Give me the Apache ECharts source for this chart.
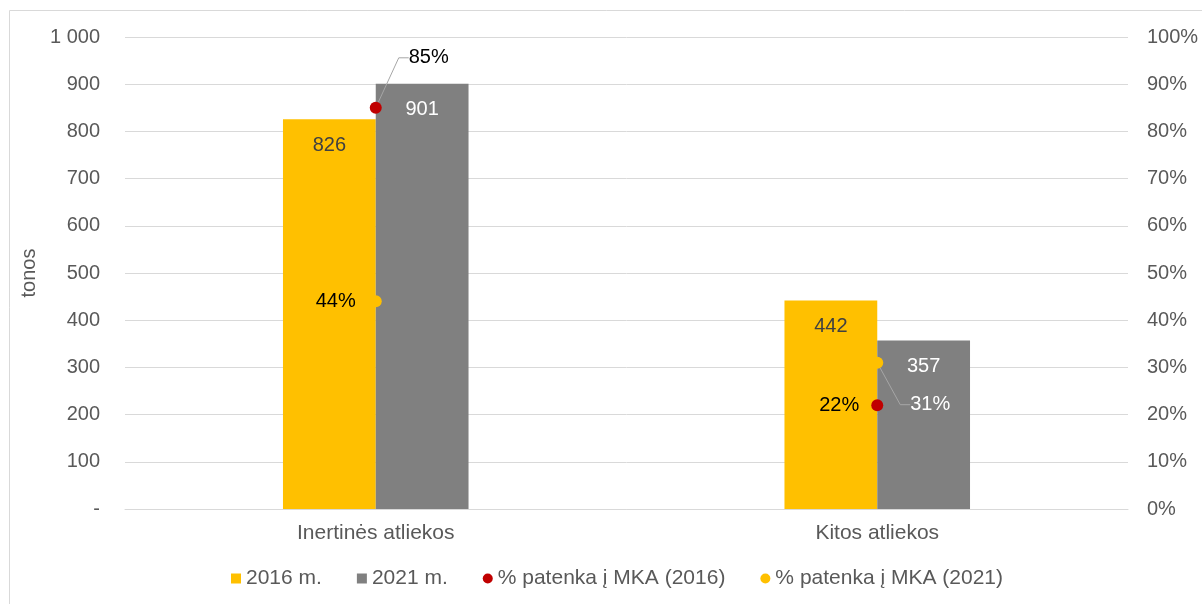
<!DOCTYPE html>
<html>
<head>
<meta charset="utf-8">
<script src="https://cdn.jsdelivr.net/npm/echarts@6/dist/echarts.min.js"></script>
<style>
html,body{margin:0;padding:0;background:#fff;}
#c{width:1202px;height:604px;}
</style>
</head>
<body>
<div id="c"></div>
<script>
var categories = ['Inertinės atliekos', 'Kitos atliekos'];
var tons2016 = [826, 442];
var tons2021 = [901, 357];
var share2016 = [0.85, 0.22];
var share2021 = [0.44, 0.31];
var seriesNames = ['2016 m.', '2021 m.', '% patenka į MKA (2016)', '% patenka į MKA (2021)'];

var FONT = "'Liberation Sans', Arial, Helvetica, sans-serif";
var chart = echarts.init(document.getElementById('c'), null, {renderer: 'canvas'});

function pctLabel(v) { return Math.round(v * 100) + '%'; }

var option = {
  animation: false,
  textStyle: {fontFamily: FONT},
  graphic: [{
    type: 'rect', silent: true,
    shape: {x: 9.5, y: 10.5, width: 1200, height: 600},
    style: {fill: 'none', stroke: '#D9D9D9', lineWidth: 1}
  }],
  grid: {left: 125, right: 74, top: 37, bottom: 95},
  legend: {
    left: 226, top: 563,
    itemWidth: 10, itemHeight: 10, itemGap: 35,
    textStyle: {fontFamily: FONT, fontSize: 21, color: '#595959'},
    data: [
      {name: seriesNames[0], icon: 'rect'},
      {name: seriesNames[1], icon: 'rect'},
      {name: seriesNames[2], icon: 'circle'},
      {name: seriesNames[3], icon: 'circle'}
    ]
  },
  xAxis: {
    type: 'category', data: categories,
    axisLine: {lineStyle: {color: '#D9D9D9'}},
    axisTick: {show: false},
    axisLabel: {fontFamily: FONT, fontSize: 21, color: '#595959', margin: 14}
  },
  yAxis: [{
    type: 'value', min: 0, max: 1000, interval: 100,
    name: 'tonos', nameLocation: 'middle', nameGap: 76, nameRotate: 90,
    nameTextStyle: {fontFamily: FONT, fontSize: 20, color: '#595959'},
    axisLine: {show: false}, axisTick: {show: false},
    splitLine: {lineStyle: {color: '#D9D9D9'}},
    axisLabel: {
      fontFamily: FONT, fontSize: 20, color: '#595959', margin: 25,
      formatter: function (v) { return v === 0 ? '-' : String(v).replace(/\B(?=(\d{3})+(?!\d))/g, ' '); }
    }
  }, {
    type: 'value', min: 0, max: 1, interval: 0.1,
    axisLine: {show: false}, axisTick: {show: false},
    splitLine: {show: false},
    axisLabel: {
      fontFamily: FONT, fontSize: 20, color: '#595959', margin: 19,
      formatter: function (v) { return Math.round(v * 100) + '%'; }
    }
  }],
  series: [{
    name: seriesNames[0], type: 'bar', data: tons2016,
    barGap: '0%', barCategoryGap: '63%',
    itemStyle: {color: '#FFC000'},
    label: {show: true, position: 'insideTop', distance: 16, fontFamily: FONT, fontSize: 20, color: '#404040'}
  }, {
    name: seriesNames[1], type: 'bar', data: tons2021,
    itemStyle: {color: '#808080'},
    label: {show: true, position: 'insideTop', distance: 16, fontFamily: FONT, fontSize: 20, color: '#FFFFFF'}
  }, {
    name: seriesNames[2], type: 'scatter', yAxisIndex: 1, z: 5,
    symbol: 'circle', symbolSize: 12,
    itemStyle: {color: '#C00000', opacity: 1},
    data: share2016.map(function (v, i) {
      return i === 0
        ? {value: v, label: {position: 'right', distance: 5, color: '#000'}, labelLine: {show: true}}
        : {value: v, label: {position: 'left', distance: 12, color: '#000'}, labelLine: {show: false}};
    }),
    label: {show: true, fontFamily: FONT, fontSize: 20, formatter: function (p) { return pctLabel(p.value); }},
    labelLine: {show: false, length2: 10, lineStyle: {color: '#A6A6A6', width: 1}},
    labelLayout: function (p) { return p.dataIndex === 0 ? {dx: 22, dy: -50} : {}; }
  }, {
    name: seriesNames[3], type: 'scatter', yAxisIndex: 1, z: 5,
    symbol: 'circle', symbolSize: 12,
    itemStyle: {color: '#FFC000', opacity: 1},
    data: share2021.map(function (v, i) {
      return i === 1
        ? {value: v, label: {position: 'right', distance: 5, color: '#FFFFFF'}, labelLine: {show: true}}
        : {value: v, label: {position: 'left', distance: 14, color: '#000'}, labelLine: {show: false}};
    }),
    label: {show: true, fontFamily: FONT, fontSize: 20, formatter: function (p) { return pctLabel(p.value); }},
    labelLine: {show: false, length2: 10, lineStyle: {color: '#A6A6A6', width: 1}},
    labelLayout: function (p) { return p.dataIndex === 1 ? {dx: 22, dy: 42} : {}; }
  }]
};
chart.setOption(option);
</script>
</body>
</html>
